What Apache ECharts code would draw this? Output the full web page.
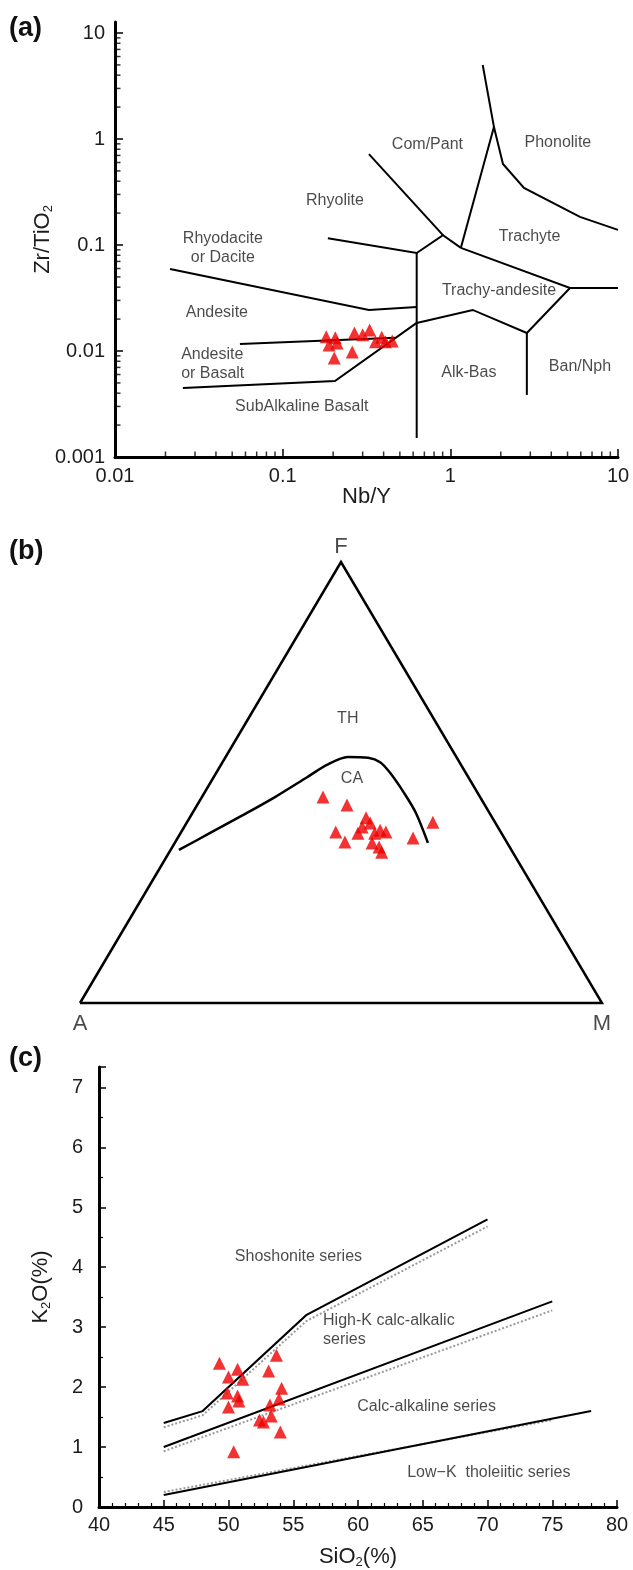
<!DOCTYPE html>
<html>
<head>
<meta charset="utf-8">
<script src="https://cdn.jsdelivr.net/npm/echarts@6/dist/echarts.min.js"></script>
<style>
html, body { margin: 0; padding: 0; background: #fff; }
#chart { width: 633px; height: 1570px; }
</style>
</head>
<body>
<div id="chart"></div>
<script>
// ---- (a) Nb/Y vs Zr/TiO2 (Winchester & Floyd) ----
var nbY    = [0.182, 0.206, 0.211, 0.189, 0.203, 0.26, 0.268, 0.30, 0.33, 0.358, 0.39, 0.41, 0.45];
var zrTiO2 = [0.0136, 0.0133, 0.0119, 0.0114, 0.0086, 0.0098, 0.0148, 0.0142, 0.0158, 0.0122, 0.0135, 0.0122, 0.0124];

// boundary polylines [Nb/Y, Zr/TiO2]
var bndRhyodacite = [[0.0213, 0.0594], [0.327, 0.0244], [0.63, 0.026]];
var bndVertical   = [[0.63, 0.084], [0.63, 0.00151]];
var bndRhyolite   = [[0.186, 0.116], [0.63, 0.084], [0.904, 0.124], [1.156, 0.094]];
var bndComPant    = [[0.327, 0.721], [0.904, 0.124]];
var bndPhonoLeft  = [[1.156, 0.094], [1.82, 1.30], [1.56, 4.99]];
var bndPhonolite  = [[1.82, 1.30], [2.06, 0.581], [2.75, 0.345], [5.93, 0.184], [10, 0.139]];
var bndTrachyte   = [[1.156, 0.094], [5.17, 0.0393], [10, 0.0393]];
var bndTrachyAnd  = [[5.17, 0.0393], [2.86, 0.0148], [1.36, 0.0244], [0.63, 0.0184]];
var bndBanNph     = [[2.86, 0.0148], [2.86, 0.00385]];
var bndAndBasalt  = [[0.0556, 0.01164], [0.468, 0.01334]];
var bndSubAlk     = [[0.0254, 0.00448], [0.205, 0.00521], [0.63, 0.0184]];

var labelsA = [
  ['Com/Pant', 0.73, 0.88, 'center'],
  ['Phonolite', 4.38, 0.916, 'center'],
  ['Rhyolite', 0.205, 0.26, 'center'],
  ['Rhyodacite\nor Dacite', 0.044, 0.094, 'center'],
  ['Trachyte', 2.97, 0.119, 'center'],
  ['Trachy-andesite', 1.95, 0.0368, 'center'],
  ['Andesite', 0.0405, 0.0228, 'center'],
  ['Andesite\nor Basalt', 0.0248, 0.00747, 'left'],
  ['SubAlkaline Basalt', 0.13, 0.00296, 'center'],
  ['Alk-Bas', 1.29, 0.0062, 'center'],
  ['Ban/Nph', 5.93, 0.00706, 'center']
];
var decadeTicksX = [0.01, 0.1, 1, 10];
var decadeTicksY = [0.001, 0.01, 0.1, 1, 10];

// ---- (b) AFM ternary, values in % (F, M; A = 100 - F - M) ----
var afmF = [46.7, 44.9, 42.0, 40.8, 39.9, 38.5, 38.8, 36.5, 38.5, 39.2, 38.8, 36.3, 35.4, 34.2, 37.4, 41.0];
var afmM = [23.2, 28.7, 33.8, 35.2, 34.1, 34.0, 29.6, 32.5, 37.2, 37.9, 39.2, 37.8, 39.6, 40.7, 45.1, 47.1];
var thcaF = [34.7, 38.5, 42.6, 46.7, 51.2, 54.0, 55.8, 55.6, 54.6, 52.2, 47.6, 43.1, 36.3];
var thcaM = [1.6, 5.6, 9.9, 14.0, 17.9, 20.3, 23.4, 27.4, 30.2, 33.3, 38.3, 42.8, 48.5];
var afmFrameF = [0, 0, 100, 0];
var afmFrameM = [0, 100, 0, 0];
var afmVertexNames = ['A', 'M', 'F'];
var afmVertexF = [0, 0, 100];
var afmVertexM = [0, 100, 0];
var labelsB = [['TH', 64.6, 19.0], ['CA', 50.8, 26.7]];

// ---- (c) SiO2 vs K2O ----
var sio2 = [49.3, 50.7, 50.0, 51.1, 49.9, 50.7, 50.8, 50.0, 50.4, 53.7, 53.1, 54.1, 53.9, 53.2, 53.3, 52.4, 52.7, 54.0];
var k2o  = [2.40, 2.30, 2.17, 2.13, 1.90, 1.85, 1.77, 1.67, 0.92, 2.53, 2.27, 1.98, 1.80, 1.70, 1.52, 1.45, 1.42, 1.25];
var lineShoshonite = [[45, 1.4], [48, 1.6], [56, 3.2], [70, 4.8]];
var lineHighK      = [[45, 1.0], [75, 3.43]];
var lineLowK       = [[45, 0.2], [78, 1.6]];
var grayShoshonite = [[45, 1.33], [48, 1.53], [56, 3.1], [70, 4.68]];
var grayHighK      = [[45, 0.93], [75, 3.28]];
var grayLowK       = [[45, 0.25], [75, 1.45]];
var labelsC = [
  ['Shoshonite series', 55.4, 4.17, 'center'],
  ['High-K calc-alkalic\nseries', 57.3, 2.95, 'left'],
  ['Calc-alkaline series', 65.3, 1.68, 'center'],
  ['Low\u2212K  tholeiitic series', 70.1, 0.57, 'center']
];

var FONT = "'Liberation Sans', Arial, Helvetica, sans-serif";
var INK = '#1c1c1c';

function zip(xs, ys) {
  return xs.map(function (x, i) { return [x, ys[i]]; });
}
// ternary -> plane: x = M + F/2, y = F
function afm(fs, ms) {
  return fs.map(function (f, i) { return [ms[i] + f / 2, f]; });
}

function boundary(pts, idx, extra) {
  var s = {
    type: 'line', xAxisIndex: idx, yAxisIndex: idx, data: pts,
    symbol: 'none', silent: true, clip: false,
    lineStyle: { color: '#000', width: 2, join: 'miter' }
  };
  if (extra) Object.keys(extra).forEach(function (k) { s[k] = extra[k]; });
  return s;
}
function textLabels(list, idx, size) {
  return {
    type: 'scatter', xAxisIndex: idx, yAxisIndex: idx, symbolSize: 0, silent: true,
    itemStyle: { color: 'rgba(0,0,0,0)' },
    data: list.map(function (l) {
      return {
        value: [l[1], l[2]],
        label: {
          show: true, position: 'inside', formatter: l[0], align: l[3] || 'center',
          fontSize: size, fontFamily: FONT, color: INK, lineHeight: size + 3
        }
      };
    })
  };
}
function triangles(pts, idx) {
  return {
    type: 'scatter', xAxisIndex: idx, yAxisIndex: idx, data: pts,
    symbol: 'triangle', symbolSize: 13, itemStyle: { color: '#ee0000' }, z: 5
  };
}

// minor log ticks drawn as tiny rects on the axes
var minorX = [], minorY = [];
[0.01, 0.1, 1].forEach(function (d) {
  for (var k = 2; k <= 9; k++) minorX.push([k * d, 0.001]);
});
[0.001, 0.01, 0.1, 1].forEach(function (d) {
  for (var k = 2; k <= 9; k++) minorY.push([0.01, k * d]);
});

var subRich = { s: { fontSize: 13, fontFamily: FONT, color: INK, verticalAlign: 'top', padding: [11, 0, 0, 0] } };
var nameStyle = { fontSize: 22, fontFamily: FONT, color: INK, rich: subRich };
var tickLabel = { fontSize: 20, fontFamily: FONT, color: INK };

var chart = echarts.init(document.getElementById('chart'));
chart.setOption({
  animation: false,
  backgroundColor: '#fff',
  grid: [
    { left: 115, top: 22, width: 503, height: 435 },
    { left: 80, top: 562, width: 522, height: 441 },
    { left: 99, top: 1067, width: 518, height: 441 }
  ],
  xAxis: [
    {
      type: 'log', logBase: 10, gridIndex: 0, min: 0.01, max: 10,
      axisLine: { onZero: false, lineStyle: { color: '#000', width: 3 } },
      axisTick: { inside: true, length: 8, customValues: decadeTicksX, lineStyle: { color: '#000', width: 1.5 } },
      axisLabel: Object.assign({ margin: 9, customValues: decadeTicksX,
        formatter: function (v) { return String(+(+v).toPrecision(6)); } }, tickLabel),
      splitLine: { show: false },
      name: 'Nb/Y', nameLocation: 'middle', nameGap: 29, nameMoveOverlap: false, nameTextStyle: nameStyle
    },
    { type: 'value', gridIndex: 1, min: 0, max: 100, show: false },
    {
      type: 'value', gridIndex: 2, min: 40, max: 80, interval: 5,
      axisLine: { onZero: false, lineStyle: { color: '#000', width: 3 } },
      axisTick: { inside: true, length: 7, lineStyle: { color: '#000', width: 1.5 } },
      minorTick: { show: true, splitNumber: 5, length: 4, lineStyle: { color: '#000', width: 1.2 } },
      axisLabel: Object.assign({ margin: 8 }, tickLabel),
      splitLine: { show: false },
      name: 'SiO{s|2}(%)', nameLocation: 'middle', nameGap: 38, nameMoveOverlap: false, nameTextStyle: nameStyle
    }
  ],
  yAxis: [
    {
      type: 'log', logBase: 10, gridIndex: 0, min: 0.001, max: 12.7,
      axisLine: { onZero: false, lineStyle: { color: '#000', width: 3 } },
      axisTick: { inside: true, length: 8, customValues: decadeTicksY, lineStyle: { color: '#000', width: 1.5 } },
      axisLabel: Object.assign({ margin: 10, customValues: decadeTicksY,
        formatter: function (v) { return String(+(+v).toPrecision(6)); } }, tickLabel),
      splitLine: { show: false },
      name: 'Zr/TiO{s|2}', nameLocation: 'middle', nameGap: 60, nameMoveOverlap: false, nameTextStyle: nameStyle
    },
    { type: 'value', gridIndex: 1, min: 0, max: 100, show: false },
    {
      type: 'value', gridIndex: 2, min: 0, max: 7.34, interval: 1,
      axisLine: { onZero: false, lineStyle: { color: '#000', width: 3 } },
      axisTick: { inside: true, length: 7, lineStyle: { color: '#000', width: 1.5 } },
      minorTick: { show: true, splitNumber: 2, length: 4, lineStyle: { color: '#000', width: 1.2 } },
      axisLabel: Object.assign({ margin: 16, showMaxLabel: false }, tickLabel),
      splitLine: { show: false },
      name: 'K{s|2}O(%)', nameLocation: 'middle', nameGap: 46, nameMoveOverlap: false, nameTextStyle: nameStyle
    }
  ],
  graphic: [
    { type: 'text', left: 9, top: 15, style: { text: '(a)', font: 'bold 27px ' + FONT, fill: '#111' } },
    { type: 'text', left: 9, top: 538, style: { text: '(b)', font: 'bold 27px ' + FONT, fill: '#111' } },
    { type: 'text', left: 9, top: 1045, style: { text: '(c)', font: 'bold 27px ' + FONT, fill: '#111' } }
  ],
  series: [
    // (a)
    {
      type: 'scatter', xAxisIndex: 0, yAxisIndex: 0, data: minorX, clip: false, silent: true,
      symbol: 'rect', symbolSize: [1.5, 5], symbolOffset: [0, -3], itemStyle: { color: '#000' }
    },
    {
      type: 'scatter', xAxisIndex: 0, yAxisIndex: 0, data: minorY, clip: false, silent: true,
      symbol: 'rect', symbolSize: [5, 1.5], symbolOffset: [3, 0], itemStyle: { color: '#000' }
    },
    boundary(bndRhyodacite, 0), boundary(bndVertical, 0), boundary(bndRhyolite, 0),
    boundary(bndComPant, 0), boundary(bndPhonoLeft, 0), boundary(bndPhonolite, 0),
    boundary(bndTrachyte, 0), boundary(bndTrachyAnd, 0), boundary(bndBanNph, 0),
    boundary(bndAndBasalt, 0), boundary(bndSubAlk, 0),
    textLabels(labelsA, 0, 16),
    triangles(zip(nbY, zrTiO2), 0),
    // (b)
    boundary(afm(afmFrameF, afmFrameM), 1, { lineStyle: { color: '#000', width: 2.5, join: 'miter' } }),
    boundary(afm(thcaF, thcaM), 1, { smooth: 0.3, lineStyle: { color: '#000', width: 2.5 } }),
    {
      type: 'scatter', xAxisIndex: 1, yAxisIndex: 1, symbolSize: 0, silent: true,
      itemStyle: { color: 'rgba(0,0,0,0)' },
      data: afm(afmVertexF, afmVertexM).map(function (p, i) {
        var top = afmVertexNames[i] === 'F';
        return {
          value: p,
          label: { show: true, formatter: afmVertexNames[i], position: top ? 'top' : 'bottom',
            distance: top ? 4 : 10, fontSize: 22, fontFamily: FONT, color: INK }
        };
      })
    },
    textLabels(labelsB.map(function (l) { var p = afm([l[1]], [l[2]])[0]; return [l[0], p[0], p[1]]; }), 1, 16),
    triangles(afm(afmF, afmM), 1),
    // (c)
    boundary(grayShoshonite, 2, { lineStyle: { color: '#9a9a9a', width: 2, type: [2, 2] } }),
    boundary(grayHighK, 2, { lineStyle: { color: '#9a9a9a', width: 2, type: [2, 2] } }),
    boundary(grayLowK, 2, { lineStyle: { color: '#9a9a9a', width: 2, type: [2, 2] } }),
    boundary(lineShoshonite, 2), boundary(lineHighK, 2), boundary(lineLowK, 2),
    textLabels(labelsC, 2, 16),
    triangles(zip(sio2, k2o), 2)
  ]
});
</script>
</body>
</html>
